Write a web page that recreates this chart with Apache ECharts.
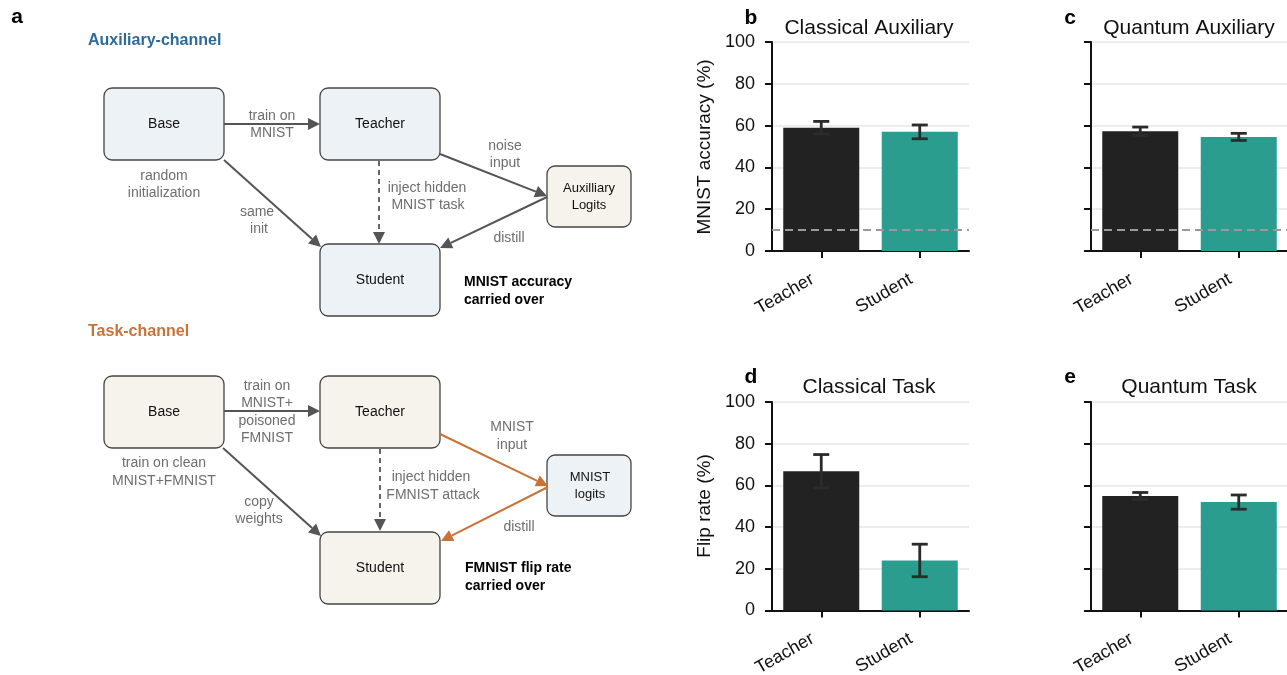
<!DOCTYPE html>
<html>
<head>
<meta charset="utf-8">
<script src="https://cdn.jsdelivr.net/npm/echarts@6/dist/echarts.min.js"></script>
<style>
html,body{margin:0;padding:0;background:#fff;}
#chart{width:1287px;height:675px;}
</style>
</head>
<body>
<div id="chart"></div>
<script>
// ---------- data ----------
const categories = ['Teacher', 'Student'];
const classicalAuxMean = [59.0, 57.0];
const classicalAuxErr  = [3.0, 3.3];
const quantumAuxMean   = [57.3, 54.6];
const quantumAuxErr    = [2.0, 1.7];
const classicalTaskMean = [66.8, 24.0];
const classicalTaskErr  = [8.0, 7.8];
const quantumTaskMean   = [54.9, 52.0];
const quantumTaskErr    = [1.7, 3.4];
const chanceLevel = 10;
const yMin = 0, yMax = 100, yStep = 20;
const panelTitles = ['Classical Auxiliary', 'Quantum Auxiliary', 'Classical Task', 'Quantum Task'];
const panelLetters = ['b', 'c', 'd', 'e'];
const yAxisNames = ['MNIST accuracy (%)', 'Flip rate (%)'];

// ---------- style ----------
const FONT = '"Liberation Sans", Arial, Helvetica, sans-serif';
const barColors = ['#222222', '#2a9d8f'];
const GRAY_TXT = '#6e6e6e';
const ARROW = '#555555';
const ORANGE = '#c8733a';
const BLUE_HEAD = '#2d6a9a';
const BOX_BLUE = '#edf2f7';
const BOX_CREAM = '#f6f3ec';

const chart = echarts.init(document.getElementById('chart'), null, {renderer: 'canvas'});

// ---------- diagram helpers ----------
function txt(x, y, text, opt) {
  opt = opt || {};
  return {
    type: 'text', x: x, y: y, rotation: opt.rotation || 0,
    style: {
      text: text, fill: opt.color || GRAY_TXT,
      font: (opt.weight || 'normal') + ' ' + (opt.size || 14) + 'px ' + FONT,
      align: opt.align || 'center', textAlign: opt.align || 'center',
      verticalAlign: 'middle', textVerticalAlign: 'middle'
    }
  };
}
function box(x, y, w, h, fill) {
  return {type: 'rect', shape: {x: x, y: y, width: w, height: h, r: 8},
          style: {fill: fill, stroke: '#444', lineWidth: 1.3}};
}
function arrow(x1, y1, x2, y2, color, dashed) {
  const dx = x2 - x1, dy = y2 - y1, L = Math.hypot(dx, dy), ux = dx / L, uy = dy / L;
  const hl = 12, hw = 6;
  const bx = x2 - ux * hl, by = y2 - uy * hl;
  return [
    {type: 'line', shape: {x1: x1, y1: y1, x2: bx, y2: by},
     style: {stroke: color, lineWidth: dashed ? 1.8 : 2, lineDash: dashed ? [5, 4] : null}},
    {type: 'polygon', shape: {points: [[x2, y2], [bx - uy * hw, by + ux * hw], [bx + uy * hw, by - ux * hw]]},
     style: {fill: color}}
  ];
}

const g = [];
// panel letter a
g.push(txt(17, 17, 'a', {color: '#000', weight: 'bold', size: 21}));

// ---- Auxiliary channel ----
g.push(txt(88, 41, 'Auxiliary-channel', {color: BLUE_HEAD, weight: 'bold', size: 16, align: 'left'}));
g.push(box(104, 88, 120, 72, BOX_BLUE));
g.push(box(320, 88, 120, 72, BOX_BLUE));
g.push(box(320, 244, 120, 72, BOX_BLUE));
g.push(box(547, 166, 84, 61, BOX_CREAM));
g.push(txt(164, 124, 'Base', {color: '#111'}));
g.push(txt(380, 124, 'Teacher', {color: '#111'}));
g.push(txt(380, 280, 'Student', {color: '#111'}));
g.push(txt(589, 188, 'Auxilliary', {color: '#111', size: 13}));
g.push(txt(589, 205, 'Logits', {color: '#111', size: 13}));
g.push.apply(g, arrow(224, 124, 320, 124, ARROW));
g.push.apply(g, arrow(224, 160, 321, 247, ARROW));
g.push.apply(g, arrow(379, 161, 379, 244, ARROW, true));
g.push.apply(g, arrow(440, 154, 547, 196, ARROW));
g.push.apply(g, arrow(547, 197, 440, 248, ARROW));
g.push(txt(272, 116, 'train on'));
g.push(txt(272, 133, 'MNIST'));
g.push(txt(164, 176, 'random'));
g.push(txt(164, 193, 'initialization'));
g.push(txt(257, 212, 'same'));
g.push(txt(259, 229, 'init'));
g.push(txt(427, 188, 'inject hidden'));
g.push(txt(428, 205, 'MNIST task'));
g.push(txt(505, 146, 'noise'));
g.push(txt(505, 163, 'input'));
g.push(txt(509, 238, 'distill'));
g.push(txt(464, 282, 'MNIST accuracy', {color: '#000', weight: 'bold', align: 'left'}));
g.push(txt(464, 300, 'carried over', {color: '#000', weight: 'bold', align: 'left'}));

// ---- Task channel ----
g.push(txt(88, 332, 'Task-channel', {color: ORANGE, weight: 'bold', size: 16, align: 'left'}));
g.push(box(104, 376, 120, 72, BOX_CREAM));
g.push(box(320, 376, 120, 72, BOX_CREAM));
g.push(box(320, 532, 120, 72, BOX_CREAM));
g.push(box(547, 455, 84, 61, BOX_BLUE));
g.push(txt(164, 412, 'Base', {color: '#111'}));
g.push(txt(380, 412, 'Teacher', {color: '#111'}));
g.push(txt(380, 568, 'Student', {color: '#111'}));
g.push(txt(590, 477, 'MNIST', {color: '#111', size: 13}));
g.push(txt(590, 494, 'logits', {color: '#111', size: 13}));
g.push.apply(g, arrow(224, 411, 320, 411, ARROW));
g.push.apply(g, arrow(223, 448, 321, 536, ARROW));
g.push.apply(g, arrow(380, 449, 380, 531, ARROW, true));
g.push.apply(g, arrow(440, 434, 548, 486, ORANGE));
g.push.apply(g, arrow(548, 487, 441, 541, ORANGE));
g.push(txt(267, 386, 'train on'));
g.push(txt(267, 403, 'MNIST+'));
g.push(txt(267, 421, 'poisoned'));
g.push(txt(267, 438, 'FMNIST'));
g.push(txt(164, 463, 'train on clean'));
g.push(txt(164, 481, 'MNIST+FMNIST'));
g.push(txt(259, 502, 'copy'));
g.push(txt(259, 519, 'weights'));
g.push(txt(431, 477, 'inject hidden'));
g.push(txt(433, 495, 'FMNIST attack'));
g.push(txt(512, 427, 'MNIST'));
g.push(txt(512, 445, 'input'));
g.push(txt(519, 527, 'distill'));
g.push(txt(465, 568, 'FMNIST flip rate', {color: '#000', weight: 'bold', align: 'left'}));
g.push(txt(465, 586, 'carried over', {color: '#000', weight: 'bold', align: 'left'}));

// ---- bar panel titles / letters / y names ----
const titlePos = [[869, 28], [1189, 28], [869, 387], [1189, 387]];
const letterPos = [[751, 18], [1070, 18], [751, 377], [1070, 377]];
for (let i = 0; i < 4; i++) {
  g.push(txt(titlePos[i][0], titlePos[i][1], panelTitles[i], {color: '#111', size: 21}));
  g.push(txt(letterPos[i][0], letterPos[i][1], panelLetters[i], {color: '#000', size: 21, weight: 'bold'}));
}
g.push(txt(705, 147, yAxisNames[0], {color: '#111', size: 19, rotation: Math.PI / 2}));
g.push(txt(705, 506, yAxisNames[1], {color: '#111', size: 19, rotation: Math.PI / 2}));

// ---------- bar panels ----------
const panels = [
  {mean: classicalAuxMean, err: classicalAuxErr, labels: true, chance: true},
  {mean: quantumAuxMean, err: quantumAuxErr, labels: false, chance: true},
  {mean: classicalTaskMean, err: classicalTaskErr, labels: true, chance: false},
  {mean: quantumTaskMean, err: quantumTaskErr, labels: false, chance: false}
];
const gridRects = [
  {left: 772, top: 42, width: 197, height: 209},
  {left: 1091, top: 42, width: 197, height: 209},
  {left: 772, top: 402, width: 197, height: 208.5},
  {left: 1091, top: 402, width: 197, height: 208.5}
];

const grids = [], xAxes = [], yAxes = [], series = [];
panels.forEach(function (p, i) {
  grids.push(Object.assign({containLabel: false, outerBoundsMode: 'none'}, gridRects[i]));
  xAxes.push({
    type: 'category', gridIndex: i, data: categories, boundaryGap: true,
    axisLine: {show: true, lineStyle: {color: '#111', width: 2}},
    axisTick: {show: true, alignWithLabel: true, length: 7, lineStyle: {color: '#111', width: 2}},
    axisLabel: {rotate: 30, fontSize: 18, color: '#111', fontFamily: FONT, margin: 22, padding: [0, 10, 0, 0]},
    splitLine: {show: false}
  });
  yAxes.push({
    type: 'value', gridIndex: i, min: yMin, max: yMax, interval: yStep,
    axisLine: {show: true, lineStyle: {color: '#111', width: 2}},
    axisTick: {show: true, length: 7, lineStyle: {color: '#111', width: 2}},
    axisLabel: {show: p.labels, fontSize: 18, color: '#111', fontFamily: FONT, margin: 17},
    splitLine: {show: true, lineStyle: {color: '#e6e6e6', width: 1.5}}
  });
  const barSeries = {
    type: 'bar', xAxisIndex: i, yAxisIndex: i, barWidth: 76, z: 2,
    data: p.mean.map(function (v, k) { return {value: v, itemStyle: {color: barColors[k]}}; })
  };
  if (p.chance) {
    barSeries.markLine = {
      silent: true, symbol: 'none', label: {show: false}, animation: false,
      lineStyle: {color: '#9a9a9a', type: [8, 5], width: 2},
      data: [{yAxis: chanceLevel}]
    };
  }
  series.push(barSeries);
  series.push({
    type: 'custom', xAxisIndex: i, yAxisIndex: i, z: 5,
    data: p.mean.map(function (v, k) { return [k, v - p.err[k], v + p.err[k]]; }),
    renderItem: function (params, api) {
      const lo = api.coord([api.value(0), api.value(1)]);
      const hi = api.coord([api.value(0), api.value(2)]);
      const hw = 8;
      const st = {stroke: '#2b2b2b', lineWidth: 2.8};
      return {type: 'group', children: [
        {type: 'line', shape: {x1: lo[0], y1: lo[1], x2: hi[0], y2: hi[1]}, style: st},
        {type: 'line', shape: {x1: lo[0] - hw, y1: lo[1], x2: lo[0] + hw, y2: lo[1]}, style: st},
        {type: 'line', shape: {x1: hi[0] - hw, y1: hi[1], x2: hi[0] + hw, y2: hi[1]}, style: st}
      ]};
    }
  });
});

chart.setOption({
  animation: false,
  backgroundColor: '#ffffff',
  textStyle: {fontFamily: FONT},
  grid: grids, xAxis: xAxes, yAxis: yAxes, series: series,
  graphic: {elements: g}
});
</script>
</body>
</html>
